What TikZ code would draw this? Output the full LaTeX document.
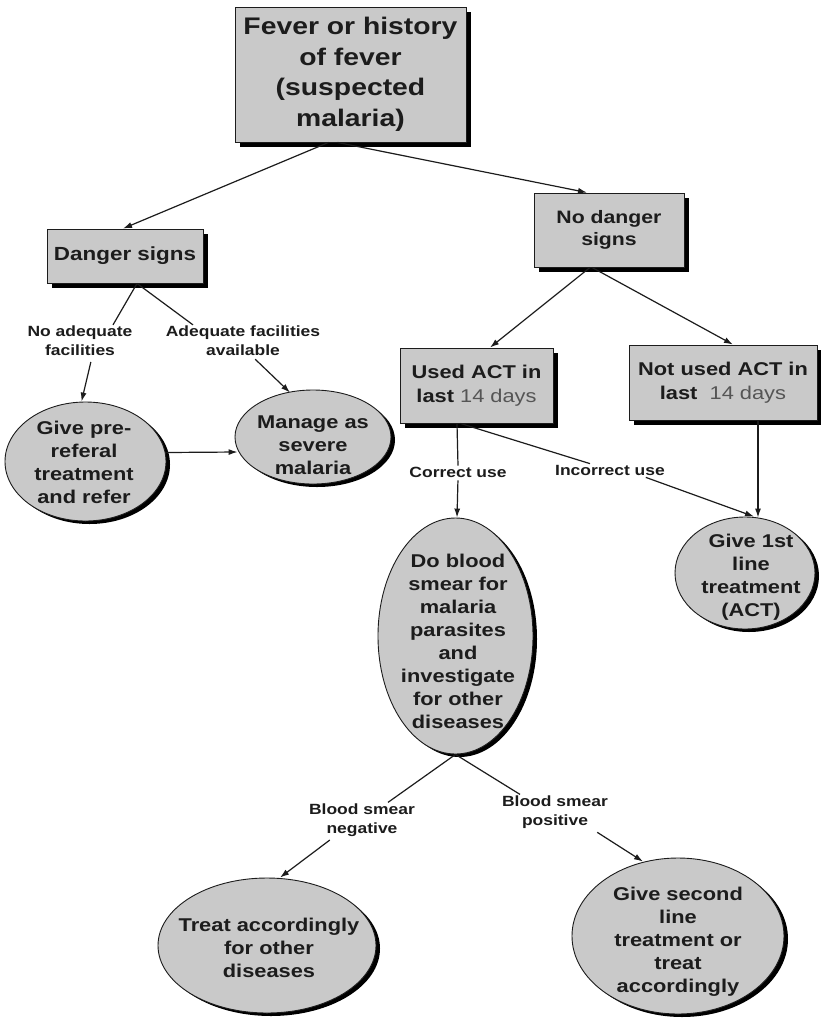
\documentclass[tikz,border=0pt]{standalone}
\usepackage{fontspec}
\setmainfont[FakeStretch=1.18]{Liberation Sans}
\usetikzlibrary{shapes.geometric,arrows.meta,shadows}
\definecolor{boxgray}{RGB}{201,201,201}
\definecolor{ink}{RGB}{28,28,28}
\tikzset{
  box/.style={draw=ink, line width=0.9pt, fill=boxgray, rectangle, inner sep=0pt,
    drop shadow={shadow xshift=5pt, shadow yshift=-5pt, fill=black, opacity=1}},
  oval/.style={draw=ink, line width=0.9pt, fill=boxgray, ellipse, inner sep=0pt,
    drop shadow={shadow xshift=4pt, shadow yshift=-3pt, fill=black, opacity=1}},
  txt/.style={align=center, text=ink, font=\bfseries\fontsize{18.5}{23}\selectfont, inner sep=0pt},
  lab/.style={align=center, text=ink, font=\bfseries\fontsize{14.8}{19}\selectfont, inner sep=1pt},
  conn/.style={draw=ink, line width=1.2pt},
  arr/.style={conn, -{Latex[length=9pt,width=6pt]}},
}
\begin{document}
\begin{tikzpicture}[x=1pt,y=-1pt]
\useasboundingbox[fill=white] (0,0) rectangle (821,1021);

% boxes
\node[box, minimum width=231pt, minimum height=135pt, txt, font=\bfseries\fontsize{24}{30.5}\selectfont]
  (fever) at (350.5,74.5) {Fever or history\\of fever\\(suspected\\malaria)};
\node[box, txt, minimum width=156pt, minimum height=54pt, font=\bfseries\fontsize{19}{23}\selectfont]
  (danger) at (125,256) {Danger signs};
\node[box, txt, minimum width=150pt, minimum height=74pt, font=\bfseries\fontsize{18}{22}\selectfont]
  (nodanger) at (609,230) {No danger\\signs};
\node[box, txt, minimum width=153pt, minimum height=75pt, font=\bfseries\fontsize{18.5}{24.5}\selectfont]
  (used) at (476.5,385.5) {Used ACT in\\last {\mdseries\color{ink!75}14 days}};
\node[box, txt, minimum width=188pt, minimum height=75pt, font=\bfseries\fontsize{18.5}{24.5}\selectfont]
  (notused) at (723,382.5) {Not used ACT in\\last\ \ {\mdseries\color{ink!75}14 days}};

% ovals
\node[oval, minimum width=161pt, minimum height=119pt] (pre) at (85.5,461.5) {};
\node[txt] (pretext) at (84,462) {Give pre-\\referal\\treatment\\and refer};
\node[oval, minimum width=156pt, minimum height=94pt] (manage) at (313,437) {};
\node[txt] (managetext) at (313,445) {Manage as\\severe\\malaria};
\node[oval, minimum width=155pt, minimum height=236pt] (blood) at (455.5,636) {};
\node[txt] (bloodtext) at (458,641) {Do blood\\smear for\\malaria\\parasites\\and\\investigate\\for other\\diseases};
\node[oval, minimum width=140pt, minimum height=112pt] (nfirst) at (745,573) {};
\node[txt] (nfirsttext) at (751,577) {Give 1st\\line\\treatment\\(ACT)};
\node[oval, minimum width=218pt, minimum height=135pt] (treat) at (267,945.5) {};
\node[txt] (treattext) at (269,948) {Treat accordingly\\for other\\diseases};
\node[oval, minimum width=212pt, minimum height=156pt] (nsecond) at (678,936) {};
\node[txt] (nsecondtext) at (678,942) {Give second\\line\\treatment or\\treat\\accordingly};

% labels
\node[lab] (lab1) at (80,341) {No adequate\\facilities};
\node[lab] (lab2) at (243,341) {Adequate facilities\\available};
\node[lab] (lab3) at (458,472) {Correct use};
\node[lab] (lab4) at (610,470) {Incorrect use};
\node[lab] (lab5) at (362,820) {Blood smear\\negative};
\node[lab] (lab6) at (555,812) {Blood smear\\positive};

% connectors
\draw[arr] ([xshift=-22pt]fever.south) -- ([xshift=-2pt]danger.north);
\draw[arr] ([xshift=-13pt]fever.south) -- ([xshift=-22pt]nodanger.north);

\draw[conn] ([xshift=12pt]danger.south) -- ([xshift=33pt]lab1.north);
\draw[conn] ([xshift=12pt]danger.south) -- ([xshift=-50pt]lab2.north);
\draw[arr, shorten <=5pt] ([xshift=12pt]lab1.south) -- ([xshift=-4pt]pre.north);
\draw[arr, shorten <=3pt] ([xshift=10pt]lab2.south) -- ([xshift=-23pt,yshift=-3pt]manage.north);
\draw[arr] ([yshift=9pt]pre.east) -- ([xshift=3pt,yshift=-15pt]manage.west);

\draw[arr] ([xshift=-19pt]nodanger.south) -- ([xshift=13.5pt]used.north);
\draw[arr] ([xshift=-17pt]nodanger.south) -- ([xshift=10pt]notused.north);

\draw[conn] ([xshift=-19.5pt]used.south) -- (lab3.north);
\draw[arr, shorten <=2pt] (lab3.south) -- ([xshift=1.5pt]blood.north);
\draw[conn] ([xshift=-16pt]used.south) -- ([xshift=-20pt]lab4.north);
\draw[arr, shorten <=3pt] ([xshift=33pt]lab4.south) -- ([xshift=9pt]nfirst.north);
\draw[arr] ([xshift=35pt]notused.south) -- ([xshift=13pt,yshift=-1pt]nfirst.north);

\draw[conn] (blood.south) -- ([xshift=26pt]lab5.north);
\draw[conn] (blood.south) -- ([xshift=-35pt]lab6.north);
\draw[arr, shorten <=4pt] ([xshift=-29pt]lab5.south) -- ([xshift=13pt]treat.north);
\draw[arr, shorten <=5pt] ([xshift=38pt]lab6.south) -- ([xshift=-35pt,yshift=-4pt]nsecond.north);
\end{tikzpicture}
\end{document}
